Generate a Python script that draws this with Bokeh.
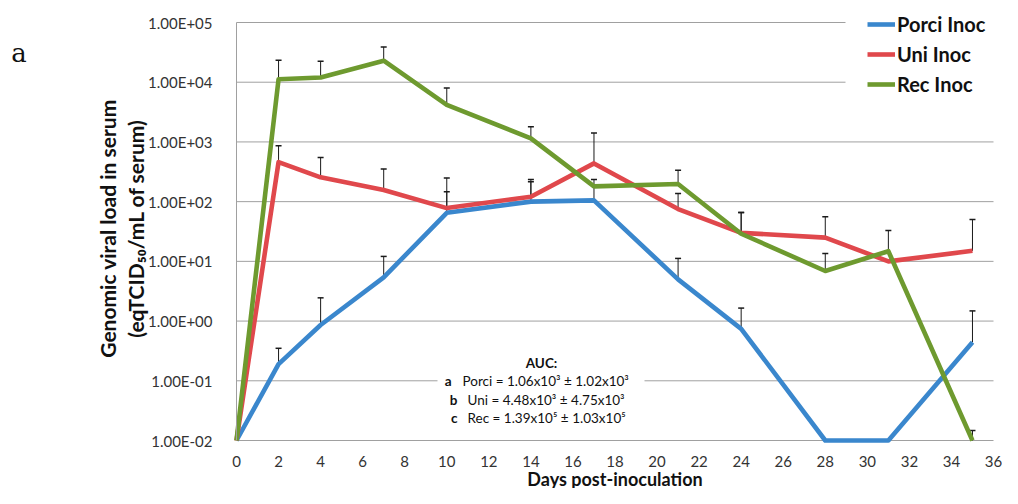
import math
from bokeh.plotting import figure
from bokeh.models import (Legend, LegendItem, Label, BoxAnnotation, FixedTicker,
                          CustomJSTickFormatter, Range1d, ColumnDataSource)
from bokeh.embed import file_html
from bokeh.resources import INLINE

# ---- data ----
days = [0, 2, 4, 7, 10, 14, 17, 21, 24, 28, 31, 35]
porci = [0.01, 0.19, 0.86, 5.4, 65, 100, 105, 5.0, 0.74, 0.01, 0.01, 0.44]
porci_err = [None, 0.35, 2.45, 12.1, 147, 215, 235, 11.2, 1.65, None, None, 1.48]
uni = [0.01, 460, 255, 157, 78, 121, 437, 75, 30, 25, 10, 15]
uni_err = [None, 860, 546, 353, 250, 235, 1410, 137, 66, 56, None, 50]
rec = [0.01, 11200, 12000, 22900, 4190, 1150, 180, 197, 29, 6.9, 14.8, 0.01]
rec_err = [None, 23400, 22500, 39000, 8000, 1800, None, 337, 66, 13.6, 33, 0.0147]

series_names = ["Porci Inoc", "Uni Inoc", "Rec Inoc"]
series_vals = [porci, uni, rec]
series_errs = [porci_err, uni_err, rec_err]
series_colors = ["#3A87CD", "#E0484C", "#6E9A2F"]

y_ticks = [1e-2, 1e-1, 1e0, 1e1, 1e2, 1e3, 1e4, 1e5]
x_ticks = list(range(0, 37, 2))

y_title = ["Genomic viral load in serum", "(eqTCID₅₀/mL of serum)"]
x_title = "Days post-inoculation"
panel_letter = "a"
auc_title = "AUC:"
auc_letters = ["a", "b", "c"]
auc_lines = ["Porci = 1.06x10³ ± 1.02x10³",
             "Uni = 4.48x10³ ± 4.75x10³",
             "Rec = 1.39x10⁵ ± 1.03x10⁵"]

FONT = "Lato"
W, H = 1002, 488

# ---- layout: the frame covers the whole canvas; axes sit at fixed locations ----
X0_PX, X36_PX = 236.0, 993.0          # pixel of day 0 and day 36
XS = (X36_PX - X0_PX) / 36.0          # px per day
YTOP_PX, YBOT_PX = 22.0, 440.0        # pixel of 1e5 and 1e-2
DEC = (YBOT_PX - YTOP_PX) / 7.0       # px per decade


def px2x(px):
    return (px - X0_PX) / XS


def px2y(py):
    return 10 ** (5 - (py - YTOP_PX) / DEC)


p = figure(width=W, height=H, y_axis_type="log",
           x_range=Range1d(px2x(0), px2x(W)), y_range=Range1d(px2y(H), px2y(0)),
           output_backend="svg", toolbar_location=None,
           min_border=0, min_border_left=0, min_border_right=0,
           min_border_top=0, min_border_bottom=0)
p.outline_line_color = None
p.background_fill_color = "white"
p.border_fill_color = "white"
p.xgrid.grid_line_color = None
p.ygrid.grid_line_color = None

# axes at fixed locations
p.xaxis.fixed_location = y_ticks[0]
p.yaxis.fixed_location = x_ticks[0]
p.xaxis.bounds = (x_ticks[0], x_ticks[-1])
p.yaxis.bounds = (y_ticks[0], y_ticks[-1])
p.xaxis.ticker = FixedTicker(ticks=x_ticks)
p.yaxis.ticker = FixedTicker(ticks=y_ticks)
p.yaxis.formatter = CustomJSTickFormatter(code="""
const s = tick.toExponential(2);
const parts = s.split('e');
const e = parts[1];
const sign = e[0];
const d = e.slice(1).padStart(2, '0');
return parts[0] + 'E' + sign + d;
""")
for ax in (p.xaxis, p.yaxis):
    ax.major_tick_line_color = None
    ax.minor_tick_line_color = None
    ax.major_label_text_font = FONT
    ax.major_label_text_font_size = "15px"
    ax.major_label_text_color = "#333333"
p.xaxis.axis_line_color = None
p.yaxis.axis_line_color = "#A0A0A0"
p.yaxis.major_label_standoff = 18
p.xaxis.major_label_standoff = 9

# horizontal gridlines (decades), from day 0 to day 36
p.segment(x0=[x_ticks[0]] * len(y_ticks), x1=[x_ticks[-1]] * len(y_ticks),
          y0=y_ticks, y1=y_ticks, line_color="#A0A0A0", line_width=1)

# error bars (upper only)
ex, ey0, ey1 = [], [], []
for vals, errs in zip(series_vals, series_errs):
    for d, v, e in zip(days, vals, errs):
        if e is not None:
            ex.append(d); ey0.append(v); ey1.append(e)
err_src = ColumnDataSource(dict(x=ex, y0=ey0, y1=ey1))
p.segment(x0="x", y0="y0", x1="x", y1="y1", source=err_src,
          line_color="#1a1a1a", line_width=1)
p.scatter(x="x", y="y1", source=err_src, marker="dash", size=6,
          line_color="#1a1a1a", line_width=1.5)

# series lines
renderers = []
for name, vals, col in zip(series_names, series_vals, series_colors):
    r = p.line(days, vals, line_color=col, line_width=4.6, line_join="round")
    renderers.append(r)

# white patch behind the legend (covers gridlines there)
p.add_layout(BoxAnnotation(left=px2x(845), right=px2x(W), bottom=px2y(119.5), top=px2y(0),
                           fill_color="white", fill_alpha=1.0, line_color=None))

legend = Legend(items=[LegendItem(label=n, renderers=[r]) for n, r in zip(series_names, renderers)],
                location=(867, 389), padding=0, spacing=0, margin=0,
                glyph_width=28, glyph_height=30, label_height=30, label_standoff=2,
                label_text_font=FONT, label_text_font_style="bold",
                label_text_font_size="20px", label_text_color="#111111",
                border_line_color=None, background_fill_color="white",
                background_fill_alpha=1.0)
p.add_layout(legend)

# AUC text box
p.add_layout(BoxAnnotation(left=px2x(437), right=px2x(644), bottom=px2y(428), top=px2y(350),
                           fill_color="white", fill_alpha=1.0, line_color=None))
p.add_layout(Label(x=px2x(541), y=px2y(362), text=auc_title, text_font=FONT,
                   text_font_style="bold", text_font_size="13.5px",
                   text_align="center", text_baseline="middle", text_color="#111111"))
letter_px = [451, 457, 457]
line_px = [462, 467, 467]
line_py = [380.5, 399, 417.5]
for lt, ln, lx, tx, ty in zip(auc_letters, auc_lines, letter_px, line_px, line_py):
    p.add_layout(Label(x=px2x(lx), y=px2y(ty), text=lt, text_font=FONT, text_font_style="bold",
                       text_font_size="13.5px", text_align="right",
                       text_baseline="middle", text_color="#111111"))
    p.add_layout(Label(x=px2x(tx), y=px2y(ty), text=ln, text_font=FONT,
                       text_font_size="13.5px", text_align="left",
                       text_baseline="middle", text_color="#111111"))

# y-axis title (two rotated lines)
for txt, cx in zip(y_title, [107, 135]):
    p.add_layout(Label(x=px2x(cx), y=px2y(228), text=txt, angle=math.pi / 2,
                       text_font=FONT, text_font_style="bold", text_font_size="21px",
                       text_align="center", text_baseline="middle", text_color="#111111"))

# x-axis title
p.add_layout(Label(x=(x_ticks[0] + x_ticks[-1]) / 2, y=px2y(478), text=x_title,
                   text_font=FONT, text_font_style="bold", text_font_size="18px",
                   text_align="center", text_baseline="middle", text_color="#111111"))

# panel letter
p.add_layout(Label(x=px2x(18.5), y=px2y(52), text=panel_letter,
                   text_font="DejaVu Serif", text_font_size="26px",
                   text_align="center", text_baseline="middle", text_color="#111111"))

open("out.html", "w").write(file_html(p, INLINE))
